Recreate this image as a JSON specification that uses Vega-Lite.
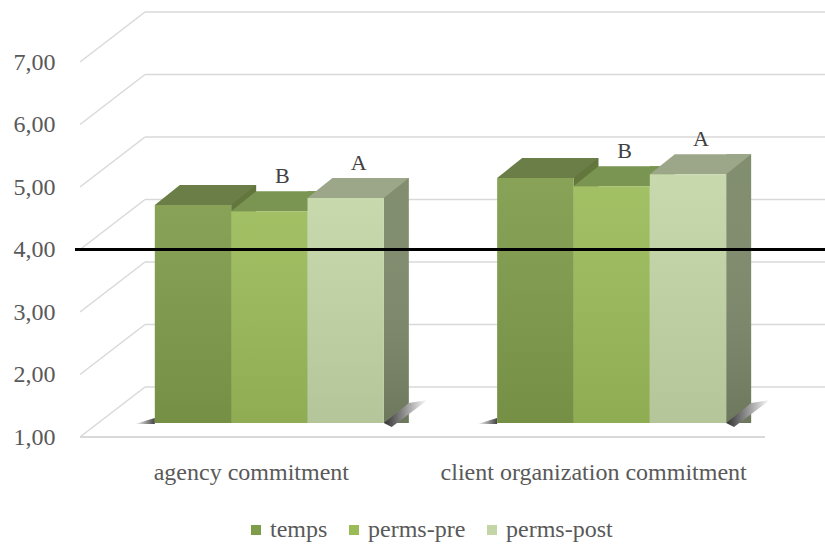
{
  "$schema": "https://vega.github.io/schema/vega-lite/v6.json",
  "width": 685,
  "height": 375,
  "autosize": {"type": "none"},
  "padding": {"left": 80, "top": 62, "right": 60, "bottom": 111},
  "background": "white",
  "datasets": {
    "bars": [
      {"group": "agency commitment", "series": "temps", "value": 4.49, "label": ""},
      {"group": "agency commitment", "series": "perms-pre", "value": 4.39, "label": "B"},
      {"group": "agency commitment", "series": "perms-post", "value": 4.6, "label": "A"},
      {"group": "client organization commitment", "series": "temps", "value": 4.92, "label": ""},
      {"group": "client organization commitment", "series": "perms-pre", "value": 4.79, "label": "B"},
      {"group": "client organization commitment", "series": "perms-post", "value": 4.98, "label": "A"}
    ],
    "ticks": [
      {"value": 1}, {"value": 2}, {"value": 3}, {"value": 4},
      {"value": 5}, {"value": 6}, {"value": 7}
    ]
  },
  "data": {"name": "bars"},
  "layer": [
    {
      "description": "gridlines: slanted part from the front plane to the back wall",
      "data": {"name": "ticks"},
      "mark": {"type": "rule", "color": "#d9d9d9", "strokeWidth": 1.5, "y2Offset": -50},
      "encoding": {
        "x": {"value": 0},
        "x2": {"value": 65},
        "y": {"field": "value", "type": "quantitative", "scale": {"domain": [1, 7], "nice": false, "zero": false},
              "axis": {"title": null, "values": [1, 2, 3, 4, 5, 6, 7], "domain": false, "ticks": false, "tickSize": 0, "grid": false, "labelPadding": 25,
                       "labelExpr": "replace(format(datum.value, '.2f'), '.', ',')",
                       "labelFont": "Liberation Serif", "labelFontSize": 24, "labelColor": "#595959"}},
        "y2": {"field": "value"}
      }
    },
    {
      "description": "gridlines along the back wall",
      "data": {"name": "ticks"},
      "mark": {"type": "rule", "color": "#d9d9d9", "strokeWidth": 1.5, "yOffset": -50},
      "encoding": {
        "x": {"value": 65},
        "x2": {"value": 745},
        "y": {"field": "value", "type": "quantitative", "scale": {"domain": [1, 7], "nice": false, "zero": false},
              "axis": {"title": null, "values": [1, 2, 3, 4, 5, 6, 7], "domain": false, "ticks": false, "tickSize": 0, "grid": false, "labelPadding": 25,
                       "labelExpr": "replace(format(datum.value, '.2f'), '.', ',')",
                       "labelFont": "Liberation Serif", "labelFontSize": 24, "labelColor": "#595959"}}
      }
    },
    {
      "description": "front edge of the floor",
      "mark": {"type": "rule", "color": "#d9d9d9", "strokeWidth": 1.5},
      "encoding": {"y": {"datum": 1}}
    },
    {
      "description": "right-hand side faces of the bars",
      "mark": {"type": "bar", "width": 25, "yOffset": -34, "y2Offset": -14},
      "encoding": {
        "x": {"field": "group", "type": "nominal", "sort": ["agency commitment", "client organization commitment"], "scale": {"paddingInner": 0.331, "paddingOuter": 0.166},
              "axis": {"title": null, "domain": false, "ticks": false, "tickSize": 0, "labelPadding": 42, "labelBaseline": "alphabetic", "labelAngle": 0, "labelLimit": 400,
                       "labelFont": "Liberation Serif", "labelFontSize": 24, "labelColor": "#595959"}},
        "xOffset": {"field": "series", "type": "nominal", "sort": ["temps", "perms-pre", "perms-post"], "scale": {"paddingInner": 0, "paddingOuter": 0, "range": [68.67, 297.67]}},
        "y": {"field": "value", "type": "quantitative", "scale": {"domain": [1, 7], "nice": false, "zero": false},
              "axis": {"title": null, "values": [1, 2, 3, 4, 5, 6, 7], "domain": false, "ticks": false, "tickSize": 0, "grid": false, "labelPadding": 25,
                       "labelExpr": "replace(format(datum.value, '.2f'), '.', ',')",
                       "labelFont": "Liberation Serif", "labelFontSize": 24, "labelColor": "#595959"}},
        "y2": {"datum": 1},
        "fill": {"field": "series", "type": "nominal", "legend": null,
                 "scale": {"domain": ["temps", "perms-pre", "perms-post"], "range": ["#5f7338", "#6f8a40", "#7f8b6c"]}}
      }
    },
    {
      "description": "shading of the side faces",
      "mark": {"type": "bar", "width": 25, "yOffset": -34, "y2Offset": -14,
               "fill": {"gradient": "linear", "x1": 0, "y1": 0, "x2": 0, "y2": 1,
                        "stops": [{"offset": 0, "color": "rgba(255,255,255,0.02)"}, {"offset": 1, "color": "rgba(0,0,0,0.14)"}]}},
      "encoding": {
        "x": {"field": "group", "type": "nominal", "sort": ["agency commitment", "client organization commitment"], "scale": {"paddingInner": 0.331, "paddingOuter": 0.166},
              "axis": {"title": null, "domain": false, "ticks": false, "tickSize": 0, "labelPadding": 42, "labelBaseline": "alphabetic", "labelAngle": 0, "labelLimit": 400,
                       "labelFont": "Liberation Serif", "labelFontSize": 24, "labelColor": "#595959"}},
        "xOffset": {"field": "series", "type": "nominal", "sort": ["temps", "perms-pre", "perms-post"], "scale": {"paddingInner": 0, "paddingOuter": 0, "range": [68.67, 297.67]}},
        "y": {"field": "value", "type": "quantitative", "scale": {"domain": [1, 7], "nice": false, "zero": false},
              "axis": {"title": null, "values": [1, 2, 3, 4, 5, 6, 7], "domain": false, "ticks": false, "tickSize": 0, "grid": false, "labelPadding": 25,
                       "labelExpr": "replace(format(datum.value, '.2f'), '.', ',')",
                       "labelFont": "Liberation Serif", "labelFontSize": 24, "labelColor": "#595959"}},
        "y2": {"datum": 1}
      }
    },
    {
      "description": "top faces of the bars (parallelogram symbol drawn at unit scale)",
      "mark": {"type": "point", "filled": true, "opacity": 1, "strokeWidth": 0, "size": 4,
               "shape": "M-38.2,0L38.2,0L63.2,-20L-13.2,-20Z", "yOffset": -14},
      "encoding": {
        "x": {"field": "group", "type": "nominal", "sort": ["agency commitment", "client organization commitment"], "scale": {"paddingInner": 0.331, "paddingOuter": 0.166},
              "axis": {"title": null, "domain": false, "ticks": false, "tickSize": 0, "labelPadding": 42, "labelBaseline": "alphabetic", "labelAngle": 0, "labelLimit": 400,
                       "labelFont": "Liberation Serif", "labelFontSize": 24, "labelColor": "#595959"}},
        "xOffset": {"field": "series", "type": "nominal", "sort": ["temps", "perms-pre", "perms-post"], "scale": {"type": "point", "padding": 0, "range": [56.17, 208.83]}},
        "y": {"field": "value", "type": "quantitative", "scale": {"domain": [1, 7], "nice": false, "zero": false},
              "axis": {"title": null, "values": [1, 2, 3, 4, 5, 6, 7], "domain": false, "ticks": false, "tickSize": 0, "grid": false, "labelPadding": 25,
                       "labelExpr": "replace(format(datum.value, '.2f'), '.', ',')",
                       "labelFont": "Liberation Serif", "labelFontSize": 24, "labelColor": "#595959"}},
        "fill": {"field": "series", "type": "nominal", "legend": null,
                 "scale": {"domain": ["temps", "perms-pre", "perms-post"], "range": ["#6b7e48", "#7a9451", "#9ca78a"]}}
      }
    },
    {
      "description": "floor shadow to the right of the last bar in each group",
      "transform": [{"filter": "datum.series === 'perms-post'"}],
      "mark": {"type": "point", "filled": true, "opacity": 1, "strokeWidth": 0, "size": 4,
               "shape": "M56.2,-14L81.2,-34L100,-37L64,-10Z",
               "fill": {"gradient": "linear", "x1": 0, "y1": 0, "x2": 1, "y2": 0,
                        "stops": [{"offset": 0, "color": "#333333"}, {"offset": 0.45, "color": "#8c8c8c"}, {"offset": 1, "color": "#ffffff"}]}},
      "encoding": {
        "x": {"field": "group", "type": "nominal", "sort": ["agency commitment", "client organization commitment"], "scale": {"paddingInner": 0.331, "paddingOuter": 0.166},
              "axis": {"title": null, "domain": false, "ticks": false, "tickSize": 0, "labelPadding": 42, "labelBaseline": "alphabetic", "labelAngle": 0, "labelLimit": 400,
                       "labelFont": "Liberation Serif", "labelFontSize": 24, "labelColor": "#595959"}},
        "xOffset": {"field": "series", "type": "nominal", "sort": ["temps", "perms-pre", "perms-post"], "scale": {"type": "point", "padding": 0, "domain": ["temps", "perms-pre", "perms-post"], "range": [38.17, 190.83]}},
        "y": {"datum": 1}
      }
    },
    {
      "description": "floor shadow to the left of the first bar in each group",
      "transform": [{"filter": "datum.series === 'temps'"}],
      "mark": {"type": "point", "filled": true, "opacity": 1, "strokeWidth": 0, "size": 4,
               "shape": "M-20.2,-19L-20.2,-13L-40,-13Z",
               "fill": {"gradient": "linear", "x1": 0, "y1": 0, "x2": 1, "y2": 0,
                        "stops": [{"offset": 0, "color": "#ffffff"}, {"offset": 1, "color": "#444444"}]}},
      "encoding": {
        "x": {"field": "group", "type": "nominal", "sort": ["agency commitment", "client organization commitment"], "scale": {"paddingInner": 0.331, "paddingOuter": 0.166},
              "axis": {"title": null, "domain": false, "ticks": false, "tickSize": 0, "labelPadding": 42, "labelBaseline": "alphabetic", "labelAngle": 0, "labelLimit": 400,
                       "labelFont": "Liberation Serif", "labelFontSize": 24, "labelColor": "#595959"}},
        "xOffset": {"field": "series", "type": "nominal", "sort": ["temps", "perms-pre", "perms-post"], "scale": {"type": "point", "padding": 0, "domain": ["temps", "perms-pre", "perms-post"], "range": [38.17, 190.83]}},
        "y": {"datum": 1}
      }
    },
    {
      "description": "front faces of the bars",
      "mark": {"type": "bar", "yOffset": -14, "y2Offset": -14},
      "encoding": {
        "x": {"field": "group", "type": "nominal", "sort": ["agency commitment", "client organization commitment"], "scale": {"paddingInner": 0.331, "paddingOuter": 0.166},
              "axis": {"title": null, "domain": false, "ticks": false, "tickSize": 0, "labelPadding": 42, "labelBaseline": "alphabetic", "labelAngle": 0, "labelLimit": 400,
                       "labelFont": "Liberation Serif", "labelFontSize": 24, "labelColor": "#595959"}},
        "xOffset": {"field": "series", "type": "nominal", "sort": ["temps", "perms-pre", "perms-post"], "scale": {"paddingInner": 0, "paddingOuter": 0, "range": [18, 247]}},
        "y": {"field": "value", "type": "quantitative", "scale": {"domain": [1, 7], "nice": false, "zero": false},
              "axis": {"title": null, "values": [1, 2, 3, 4, 5, 6, 7], "domain": false, "ticks": false, "tickSize": 0, "grid": false, "labelPadding": 25,
                       "labelExpr": "replace(format(datum.value, '.2f'), '.', ',')",
                       "labelFont": "Liberation Serif", "labelFontSize": 24, "labelColor": "#595959"}},
        "y2": {"datum": 1},
        "color": {"field": "series", "type": "nominal", "sort": ["temps", "perms-pre", "perms-post"],
                  "scale": {"domain": ["temps", "perms-pre", "perms-post"], "range": ["#7f9c4a", "#9bbb59", "#c4d6a7"]},
                  "legend": {"title": null, "orient": "none", "legendX": 164, "legendY": 456, "direction": "horizontal",
                             "symbolType": "square", "symbolSize": 100, "symbolStrokeWidth": 0, "symbolOpacity": 1,
                             "labelFont": "Liberation Serif", "labelFontSize": 24, "labelColor": "#595959",
                             "columnPadding": 14, "labelOffset": 2, "padding": 0}}
      }
    },
    {
      "description": "vertical shading of the front faces",
      "mark": {"type": "bar", "yOffset": -14, "y2Offset": -14,
               "fill": {"gradient": "linear", "x1": 0, "y1": 0, "x2": 0, "y2": 1,
                        "stops": [{"offset": 0, "color": "rgba(255,255,255,0.07)"}, {"offset": 1, "color": "rgba(0,0,0,0.08)"}]}},
      "encoding": {
        "x": {"field": "group", "type": "nominal", "sort": ["agency commitment", "client organization commitment"], "scale": {"paddingInner": 0.331, "paddingOuter": 0.166},
              "axis": {"title": null, "domain": false, "ticks": false, "tickSize": 0, "labelPadding": 42, "labelBaseline": "alphabetic", "labelAngle": 0, "labelLimit": 400,
                       "labelFont": "Liberation Serif", "labelFontSize": 24, "labelColor": "#595959"}},
        "xOffset": {"field": "series", "type": "nominal", "sort": ["temps", "perms-pre", "perms-post"], "scale": {"paddingInner": 0, "paddingOuter": 0, "range": [18, 247]}},
        "y": {"field": "value", "type": "quantitative", "scale": {"domain": [1, 7], "nice": false, "zero": false},
              "axis": {"title": null, "values": [1, 2, 3, 4, 5, 6, 7], "domain": false, "ticks": false, "tickSize": 0, "grid": false, "labelPadding": 25,
                       "labelExpr": "replace(format(datum.value, '.2f'), '.', ',')",
                       "labelFont": "Liberation Serif", "labelFontSize": 24, "labelColor": "#595959"}},
        "y2": {"datum": 1}
      }
    },
    {
      "description": "significance letters above the bars",
      "mark": {"type": "text", "font": "Liberation Serif", "fontSize": 22, "color": "#404040",
               "align": "center", "baseline": "alphabetic", "dx": 31, "dy": -42},
      "encoding": {
        "x": {"field": "group", "type": "nominal", "sort": ["agency commitment", "client organization commitment"], "scale": {"paddingInner": 0.331, "paddingOuter": 0.166},
              "axis": {"title": null, "domain": false, "ticks": false, "tickSize": 0, "labelPadding": 42, "labelBaseline": "alphabetic", "labelAngle": 0, "labelLimit": 400,
                       "labelFont": "Liberation Serif", "labelFontSize": 24, "labelColor": "#595959"}},
        "xOffset": {"field": "series", "type": "nominal", "sort": ["temps", "perms-pre", "perms-post"], "scale": {"type": "point", "padding": 0, "range": [38.17, 190.83]}},
        "y": {"field": "value", "type": "quantitative", "scale": {"domain": [1, 7], "nice": false, "zero": false},
              "axis": {"title": null, "values": [1, 2, 3, 4, 5, 6, 7], "domain": false, "ticks": false, "tickSize": 0, "grid": false, "labelPadding": 25,
                       "labelExpr": "replace(format(datum.value, '.2f'), '.', ',')",
                       "labelFont": "Liberation Serif", "labelFontSize": 24, "labelColor": "#595959"}},
        "text": {"field": "label"}
      }
    },
    {
      "description": "reference line at 4",
      "mark": {"type": "rule", "color": "#000000", "strokeWidth": 3},
      "encoding": {
        "x": {"value": -5},
        "x2": {"value": 745},
        "y": {"datum": 4}
      }
    }
  ],
  "resolve": {"scale": {"fill": "independent", "xOffset": "independent"}},
  "config": {
    "view": {"stroke": null},
    "font": "Liberation Serif"
  }
}
